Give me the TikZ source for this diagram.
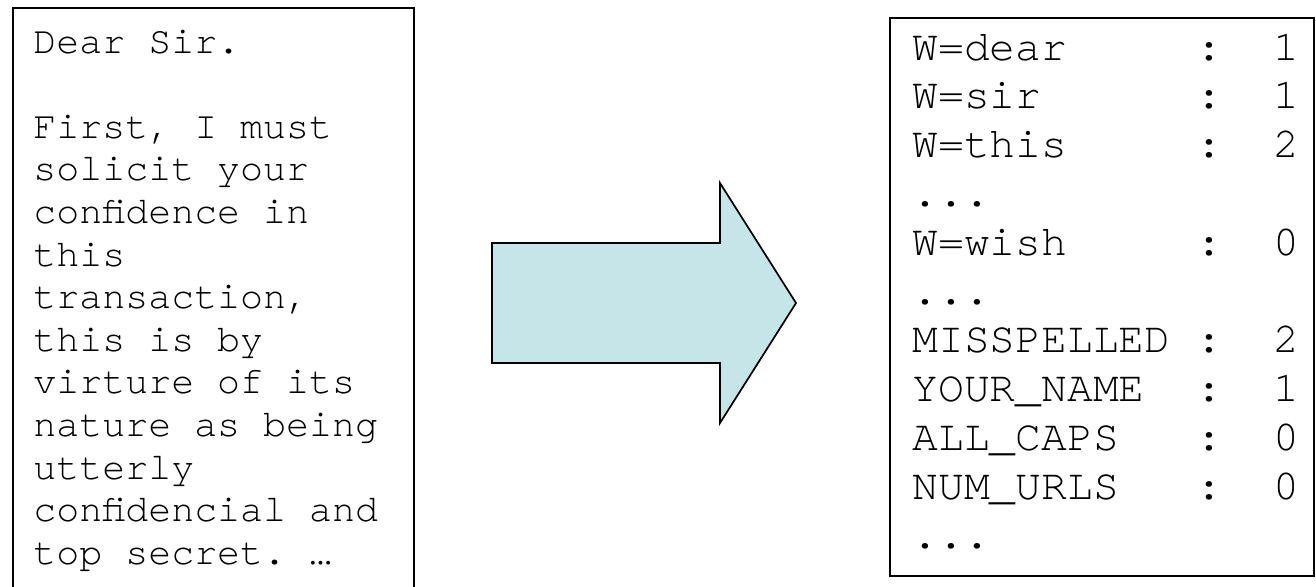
\documentclass[tikz,border=0pt]{standalone}
\usepackage{fontspec}
\setmonofont{TeX Gyre Cursor}
\definecolor{arrowfill}{RGB}{197,229,232}
\begin{document}
\begin{tikzpicture}[x=0.5pt,y=-0.5pt,
  frame/.style={draw=black, line width=1pt, inner sep=0pt, anchor=north west},
  letterfont/.style={font=\ttfamily\fontsize{19.15}{21.3}\selectfont},
  featfont/.style={font=\ttfamily\fontsize{21.5}{24.4}\selectfont},
  bodytext/.style={anchor=base west, inner sep=0pt},
  blockarrow/.style={draw=black, line width=0.85pt, fill=arrowfill, line join=miter}]
\useasboundingbox (0,0) rectangle (1316,586);

% the e-mail text (its frame runs past the lower edge)
\node[frame, minimum width=200.5pt, minimum height=330pt] (letterbox) at (12,7) {};
\node[bodytext, letterfont] (letter) at (33,53) {%
\begin{tabular}[t]{@{}l@{}}
Dear Sir.\\
\\
First, I must\\
solicit your\\
confidence in\\
this\\
transaction,\\
this is by\\
virture of its\\
nature as being\\
utterly\\
confidencial and\\
top secret. …
\end{tabular}};

% block arrow
\draw[blockarrow] (492,243) -- (720,243) -- (720,183) -- (796,303)
  -- (720,423) -- (720,363) -- (492,363) -- cycle;

% feature vector
\node[frame, minimum width=212pt, minimum height=279pt] (featbox) at (889,17) {};
\node[bodytext, featfont] (features) at (912,60) {%
\begin{tabular}[t]{@{}l@{\hphantom{0}}l@{\hphantom{00}}l@{}}
W=dear & : & 1\\
W=sir & : & 1\\
W=this & : & 2\\
... & & \\
W=wish & : & 0\\
... & & \\
MISSPELLED & : & 2\\
YOUR\_NAME & : & 1\\
ALL\_CAPS & : & 0\\
NUM\_URLS & : & 0\\
... & &
\end{tabular}};
\end{tikzpicture}
\end{document}
